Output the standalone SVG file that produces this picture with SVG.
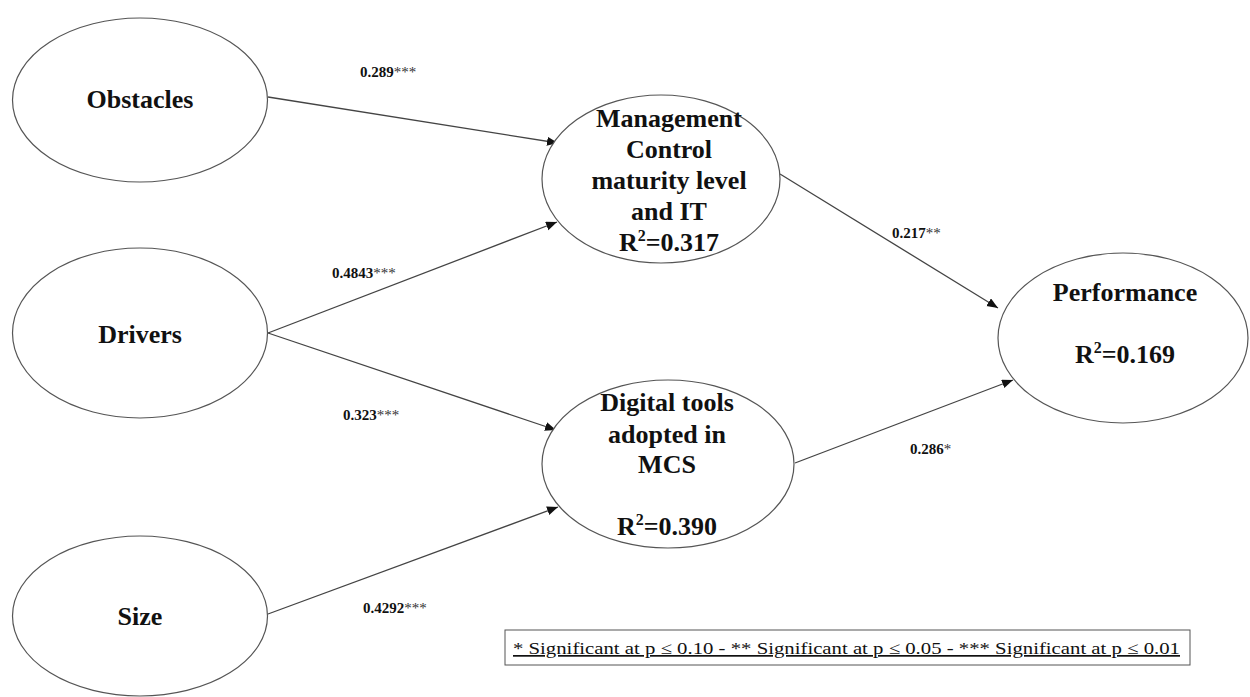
<svg xmlns="http://www.w3.org/2000/svg" width="1250" height="697" viewBox="0 0 1250 697">
<style>
.node{fill:#fff;stroke:#555;stroke-width:1.2}
.nt{font-family:"Liberation Serif","Times New Roman",serif;font-weight:bold;font-size:26px;fill:#111;text-anchor:middle}
.lb{font-family:"Liberation Serif","Times New Roman",serif;font-weight:bold;font-size:15px;fill:#111}
.st{font-weight:normal;fill:#333}
.edge{stroke:#444;stroke-width:1.3;fill:none;marker-end:url(#ah)}
.sup{font-size:16px}
.leg{font-family:"Liberation Serif","Times New Roman",serif;font-size:17px;fill:#111;text-decoration:underline}
</style>
<defs>
<marker id="ah" markerUnits="userSpaceOnUse" markerWidth="12" markerHeight="10" refX="11" refY="4.5" orient="auto">
<path d="M0,0 L11,4.5 L0,9 Z" fill="#111"/>
</marker>
</defs>
<rect width="1250" height="697" fill="#fff"/>
<g id="connectors">
<line class="edge" x1="268" y1="97" x2="558" y2="143"/>
<line class="edge" x1="268" y1="333" x2="557" y2="222"/>
<line class="edge" x1="268" y1="333" x2="556" y2="430"/>
<line class="edge" x1="268" y1="614" x2="558" y2="507"/>
<line class="edge" x1="780" y1="174" x2="998" y2="308"/>
<line class="edge" x1="795" y1="463" x2="1013" y2="380"/>
</g>
<g id="labels">
<text class="lb" x="360" y="77">0.289<tspan class="st">***</tspan></text>
<text class="lb" x="332" y="278">0.4843<tspan class="st">***</tspan></text>
<text class="lb" x="343" y="420">0.323<tspan class="st">***</tspan></text>
<text class="lb" x="363" y="613">0.4292<tspan class="st">***</tspan></text>
<text class="lb" x="892" y="238">0.217<tspan class="st">**</tspan></text>
<text class="lb" x="910" y="454">0.286<tspan class="st">*</tspan></text>
</g>
<g id="obstacles">
<ellipse class="node" cx="140" cy="100" rx="127.5" ry="82"/>
<text class="nt" x="140" y="108">Obstacles</text>
</g>
<g id="drivers">
<ellipse class="node" cx="140" cy="333" rx="127.5" ry="85"/>
<text class="nt" x="140" y="343">Drivers</text>
</g>
<g id="size">
<ellipse class="node" cx="140" cy="616" rx="127.5" ry="80"/>
<text class="nt" x="140" y="625">Size</text>
</g>
<g id="management">
<ellipse class="node" cx="661" cy="179" rx="119" ry="84"/>
<text class="nt" x="669" y="127">Management</text>
<text class="nt" x="669" y="158">Control</text>
<text class="nt" x="669" y="189">maturity level</text>
<text class="nt" x="669" y="220">and IT</text>
<text class="nt" x="669" y="251">R<tspan class="sup" dy="-10">2</tspan><tspan dy="10">=0.317</tspan></text>
</g>
<g id="digital">
<ellipse class="node" cx="668" cy="464" rx="126" ry="84"/>
<text class="nt" x="667" y="411">Digital tools</text>
<text class="nt" x="667" y="443">adopted in</text>
<text class="nt" x="667" y="473">MCS</text>
<text class="nt" x="667" y="535">R<tspan class="sup" dy="-10">2</tspan><tspan dy="10">=0.390</tspan></text>
</g>
<g id="performance">
<ellipse class="node" cx="1123" cy="338" rx="125" ry="85"/>
<text class="nt" x="1125" y="301">Performance</text>
<text class="nt" x="1125" y="363">R<tspan class="sup" dy="-10">2</tspan><tspan dy="10">=0.169</tspan></text>
</g>
<g id="legend">
<rect x="505" y="630" width="685" height="35" fill="#fff" stroke="#555" stroke-width="1"/>
<text class="leg" x="513" y="654" textLength="667" lengthAdjust="spacingAndGlyphs">* Significant at p ≤ 0.10 - ** Significant at p ≤ 0.05 - *** Significant at p ≤ 0.01</text>
</g>
</svg>
